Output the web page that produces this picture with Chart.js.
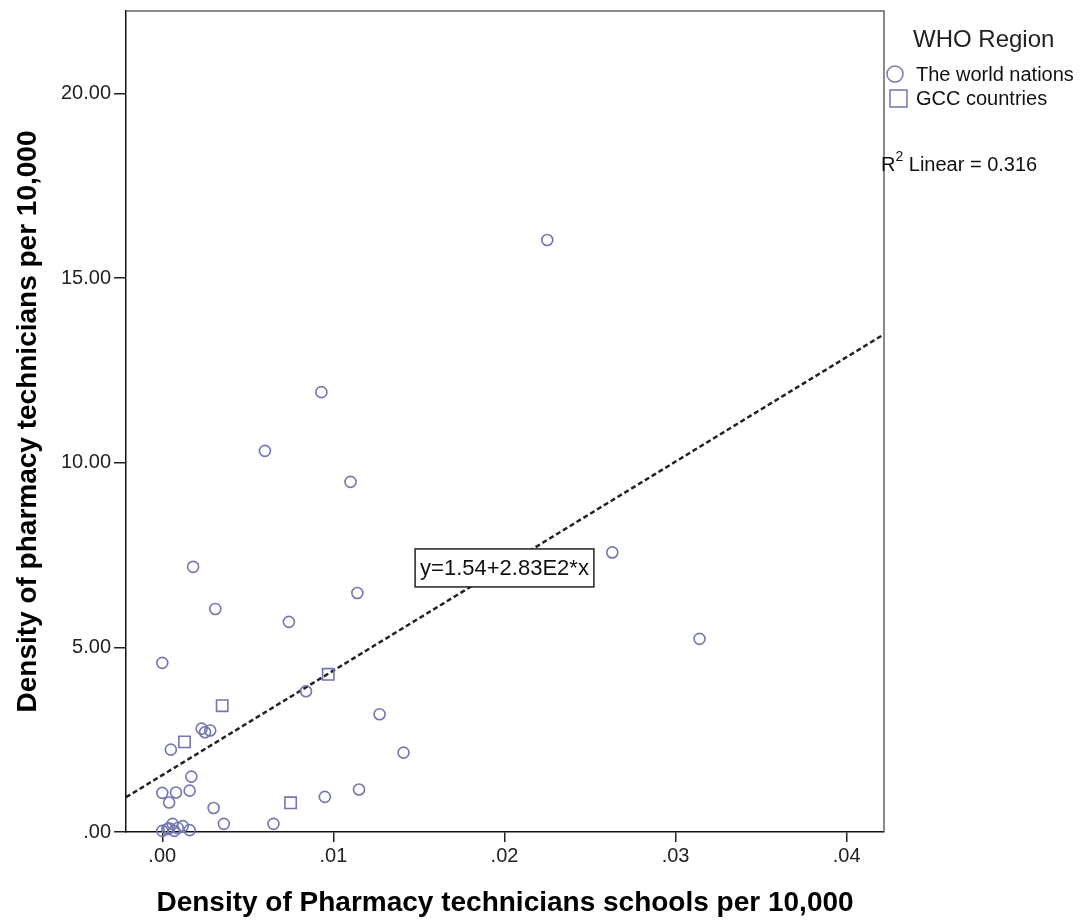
<!DOCTYPE html>
<html>
<head>
<meta charset="utf-8">
<script src="https://cdn.jsdelivr.net/npm/chart.js@4"></script>
<style>
html, body { margin: 0; padding: 0; background: #fff; }
#wrap { width: 1085px; height: 921px; }
</style>
</head>
<body>
<div id="wrap"><canvas id="scatterChart"></canvas></div>
<script>
// The world nations
var worldX = [0.0225, 0.0093, 0.0060, 0.0110, 0.0018, 0.0263, 0.0031, 0.0114, 0.0074, 0.0000,
    0.0314, 0.0084, 0.0127, 0.0141, 0.0005, 0.0023, 0.0025, 0.0028, 0.0017, 0.0000,
    0.0008, 0.0016, 0.0004, 0.0030, 0.0095, 0.0115, 0.0036, 0.0065,
    0.0000, 0.0003, 0.0006, 0.0009, 0.0012, 0.0007, 0.0016, 0.0004];
var worldY = [16.03, 11.91, 10.32, 9.48, 7.18, 7.57, 6.04, 6.47, 5.69, 4.58,
    5.23, 3.81, 3.19, 2.15, 2.23, 2.80, 2.70, 2.75, 1.50, 1.06,
    1.07, 1.12, 0.80, 0.65, 0.95, 1.15, 0.22, 0.22,
    0.03, 0.08, 0.22, 0.11, 0.16, 0.03, 0.05, 0.10];

// GCC countries
var gccX = [0.0013, 0.0035, 0.0097, 0.0075];
var gccY = [2.44, 3.42, 4.27, 0.79];

// linear fit shown on the chart
var fitIntercept = 1.54;
var fitSlope = 283;
var fitLabel = 'y=1.54+2.83E2*x';
var rSquared = '0.316';

var xTicks = [0, 0.01, 0.02, 0.03, 0.04];
var yTicks = [0, 5, 10, 15, 20];
var xMin = -0.00212, xMax = 0.04218;
var yMin = 0, yMax = 22.23;

var markerColor = '#7376b0';
var fontName = "'Liberation Sans', Arial, sans-serif";

function toPoints(xs, ys) {
    return xs.map(function (x, i) { return { x: x, y: ys[i] }; });
}

function fmt(v) {
    var s = v.toFixed(2);
    return s.indexOf('0.') === 0 ? s.substring(1) : s;
}

// frame, fit label box, legend and R2 text
var extras = {
    id: 'extras',
    afterDatasetsDraw: function (chart) {
        var ctx = chart.ctx;
        var a = chart.chartArea;
        var xs = chart.scales.x, ys = chart.scales.y;
        ctx.save();

        // top / right frame
        ctx.strokeStyle = '#666';
        ctx.lineWidth = 1.5;
        ctx.beginPath();
        ctx.moveTo(a.left, a.top);
        ctx.lineTo(a.right, a.top);
        ctx.lineTo(a.right, a.bottom);
        ctx.stroke();

        // fit equation box
        ctx.font = '22px ' + fontName;
        var w = ctx.measureText(fitLabel).width + 10;
        var cx = xs.getPixelForValue(0.0200);
        var cy = ys.getPixelForValue(7.15);
        ctx.fillStyle = '#fff';
        ctx.fillRect(cx - w / 2, cy - 19, w, 38);
        ctx.strokeStyle = '#222';
        ctx.lineWidth = 1.5;
        ctx.strokeRect(cx - w / 2, cy - 19, w, 38);
        ctx.fillStyle = '#111';
        ctx.textAlign = 'center';
        ctx.textBaseline = 'middle';
        ctx.fillText(fitLabel, cx, cy + 1);

        // legend
        var lx = a.right;
        ctx.textAlign = 'left';
        ctx.fillStyle = '#222';
        ctx.font = '24px ' + fontName;
        ctx.fillText('WHO Region', lx + 29, 40);
        ctx.font = '20px ' + fontName;
        ctx.strokeStyle = markerColor;
        ctx.lineWidth = 1.5;
        ctx.beginPath();
        ctx.arc(lx + 11, 74, 8, 0, Math.PI * 2);
        ctx.stroke();
        ctx.strokeRect(lx + 6, 90, 17, 17);
        ctx.fillStyle = '#111';
        ctx.fillText(chart.data.datasets[0].label, lx + 32, 75);
        ctx.fillText(chart.data.datasets[1].label, lx + 32, 99);

        // R2
        ctx.font = '20px ' + fontName;
        ctx.fillText('R', lx - 3, 165);
        var rw = ctx.measureText('R').width;
        ctx.font = '14px ' + fontName;
        ctx.fillText('2', lx - 3 + rw, 157);
        var sw = ctx.measureText('2').width;
        ctx.font = '20px ' + fontName;
        ctx.fillText(' Linear = ' + rSquared, lx - 3 + rw + sw, 165);

        ctx.restore();
    }
};

var ctx = document.getElementById('scatterChart').getContext('2d');
var myChart = new Chart(ctx, {
    type: 'scatter',
    data: {
        datasets: [{
            label: 'The world nations',
            data: toPoints(worldX, worldY),
            pointStyle: 'circle',
            pointRadius: 5.5,
            pointBorderWidth: 1.6,
            pointBorderColor: markerColor,
            pointBackgroundColor: 'rgba(0,0,0,0)',
            clip: false
        }, {
            label: 'GCC countries',
            data: toPoints(gccX, gccY),
            pointStyle: 'rect',
            pointRadius: 8,
            pointBorderWidth: 1.6,
            pointBorderColor: markerColor,
            pointBackgroundColor: 'rgba(0,0,0,0)',
            clip: false
        }, {
            type: 'line',
            label: 'Fit',
            data: [
                { x: xMin, y: fitIntercept + fitSlope * xMin },
                { x: xMax, y: fitIntercept + fitSlope * xMax }
            ],
            borderColor: '#222',
            borderWidth: 2.5,
            borderDash: [5, 3],
            pointRadius: 0,
            fill: false
        }]
    },
    options: {
        responsive: true,
        maintainAspectRatio: false,
        animation: false,
        layout: { padding: { top: 11, right: 201, left: 0, bottom: 0 } },
        plugins: {
            legend: { display: false },
            tooltip: { enabled: false }
        },
        scales: {
            x: {
                type: 'linear',
                min: xMin,
                max: xMax,
                afterBuildTicks: function (scale) {
                    scale.ticks = xTicks.map(function (v) { return { value: v }; });
                },
                afterFit: function (scale) { scale.height = 89; },
                ticks: {
                    callback: function (v) { return fmt(v); },
                    font: { family: fontName, size: 20 },
                    color: '#222',
                    padding: 2,
                    maxRotation: 0
                },
                grid: {
                    drawOnChartArea: false,
                    tickLength: 10,
                    color: '#222',
                    lineWidth: 1.5
                },
                border: { color: '#111', width: 1.5 },
                title: {
                    display: true,
                    text: 'Density of Pharmacy technicians schools per 10,000',
                    font: { family: fontName, size: 28, weight: 'bold' },
                    color: '#000',
                    padding: { top: 0, bottom: 1 }
                }
            },
            y: {
                min: yMin,
                max: yMax,
                afterBuildTicks: function (scale) {
                    scale.ticks = yTicks.map(function (v) { return { value: v }; });
                },
                afterFit: function (scale) {
                    scale.width = 126;
                    scale.paddingTop = 0;
                    scale.paddingBottom = 0;
                },
                ticks: {
                    callback: function (v) { return fmt(v); },
                    font: { family: fontName, size: 20 },
                    color: '#222',
                    padding: 3
                },
                grid: {
                    drawOnChartArea: false,
                    tickLength: 12,
                    color: '#222',
                    lineWidth: 1.5
                },
                border: { color: '#111', width: 1.5 },
                title: {
                    display: true,
                    text: 'Density of pharmacy technicians per 10,000',
                    font: { family: fontName, size: 28, weight: 'bold' },
                    color: '#000',
                    padding: { top: 11, bottom: 0 }
                }
            }
        }
    },
    plugins: [extras]
});
</script>
</body>
</html>
